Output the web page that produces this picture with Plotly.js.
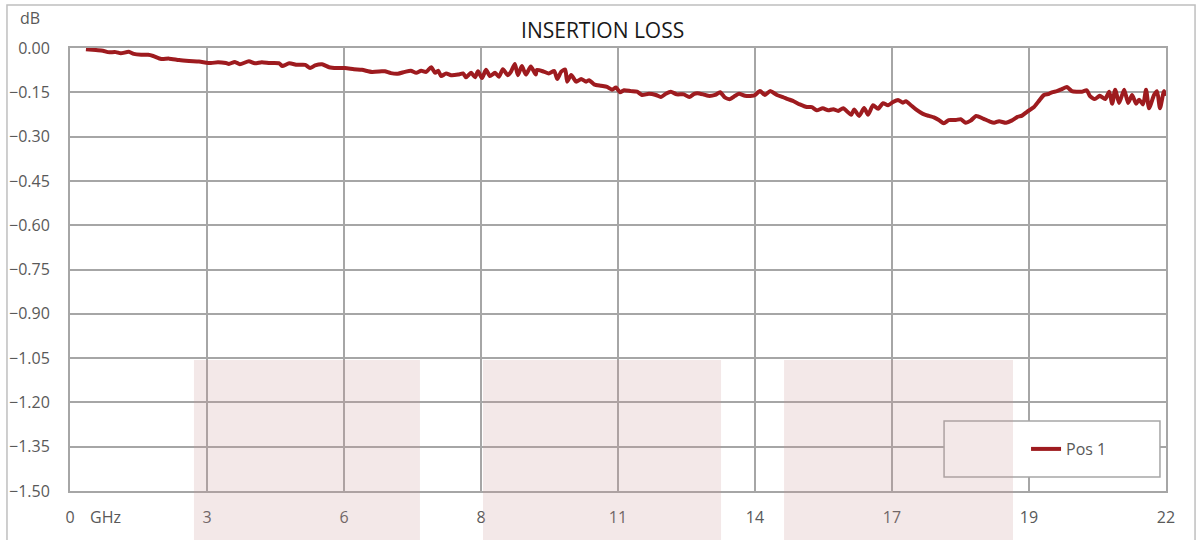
<!DOCTYPE html>
<html>
<head>
<meta charset="utf-8">
<script src="https://cdn.plot.ly/plotly-3.0.1.min.js"></script>
<style>
  html, body { margin: 0; padding: 0; background: #fff; }
  #chart { width: 1196px; height: 540px; }
</style>
</head>
<body>
<div id="chart"></div>
<script>
// frequency points (GHz) and insertion loss (dB)
const freqGHz = [
  0.32, 0.52, 0.66, 0.76, 0.92, 1.02, 1.18, 1.28, 1.43, 1.57, 1.67, 1.83, 1.99, 2.19, 2.39, 2.59, 2.83, 2.97, 3.13,
  3.19, 3.31, 3.41, 3.59, 3.71, 3.85, 4.01, 4.20, 4.26, 4.40, 4.56, 4.72, 4.82, 4.92, 5.06, 5.20, 5.36, 5.52, 5.70, 5.86, 6.06, 6.26,
  6.32, 6.44, 6.58, 6.72, 6.84, 6.95, 7.05, 7.15, 7.25, 7.33, 7.39, 7.45, 7.55, 7.65, 7.79, 7.89, 7.95, 8.05, 8.13, 8.19, 8.27,
  8.35, 8.43, 8.53, 8.61, 8.69, 8.79, 8.85, 8.93, 8.99, 9.07, 9.15, 9.25, 9.35,
  9.37, 9.51, 9.61, 9.72, 9.78, 9.86, 9.94, 9.98, 10.06, 10.16, 10.26, 10.36, 10.42, 10.52, 10.66, 10.78, 10.88, 10.96, 11.04,
  11.12, 11.26, 11.38, 11.48, 11.62, 11.76, 11.86, 11.96, 12.06, 12.18, 12.32, 12.43, 12.53,
  12.59, 12.71, 12.81, 12.95, 13.05, 13.15, 13.25, 13.35, 13.43, 13.55, 13.69, 13.75, 13.85, 13.95, 14.05, 14.19, 14.31, 14.41,
  14.51, 14.65, 14.79, 14.89, 14.99, 15.11, 15.22, 15.32, 15.42, 15.52,
  15.68, 15.74, 15.84, 15.94, 16.02, 16.12, 16.22, 16.32, 16.42, 16.52, 16.62, 16.72, 16.78, 16.88, 16.98, 17.12, 17.24, 17.34,
  17.44, 17.54, 17.64, 17.78, 17.88, 17.98, 18.08, 18.19, 18.33, 18.45, 18.55, 18.65, 18.79,
  18.91, 19.01, 19.11, 19.21, 19.35, 19.45, 19.55, 19.65, 19.71, 19.81, 19.91, 20.01, 20.11, 20.21, 20.31, 20.41, 20.47, 20.57,
  20.67, 20.78, 20.86, 20.92, 20.98, 21.06, 21.16, 21.24, 21.32, 21.40, 21.46, 21.54, 21.60, 21.66, 21.76, 21.82, 21.88, 21.96, 22.00
];
const pos1dB = [
  -0.004, -0.007, -0.009, -0.014, -0.014, -0.018, -0.013, -0.020, -0.023, -0.023, -0.027, -0.037, -0.036, -0.041, -0.044, -0.046, -0.051, -0.048, -0.051,
  -0.054, -0.047, -0.055, -0.045, -0.052, -0.048, -0.051, -0.052, -0.061, -0.052, -0.057, -0.057, -0.068, -0.059, -0.055, -0.065, -0.068, -0.068, -0.072, -0.074, -0.081, -0.079,
  -0.079, -0.085, -0.087, -0.081, -0.077, -0.084, -0.077, -0.081, -0.065, -0.084, -0.077, -0.095, -0.086, -0.092, -0.090, -0.086, -0.099, -0.084, -0.099, -0.079, -0.102,
  -0.074, -0.095, -0.084, -0.097, -0.072, -0.092, -0.081, -0.054, -0.092, -0.061, -0.090, -0.063, -0.090,
  -0.074, -0.080, -0.086, -0.078, -0.105, -0.080, -0.073, -0.114, -0.091, -0.114, -0.105, -0.114, -0.109, -0.123, -0.128, -0.132, -0.141, -0.134, -0.150,
  -0.143, -0.146, -0.148, -0.159, -0.155, -0.159, -0.166, -0.155, -0.148, -0.157, -0.157, -0.166, -0.155,
  -0.153, -0.157, -0.162, -0.159, -0.150, -0.168, -0.173, -0.162, -0.155, -0.162, -0.162, -0.159, -0.146, -0.159, -0.146, -0.159, -0.166, -0.173,
  -0.179, -0.191, -0.200, -0.200, -0.211, -0.204, -0.211, -0.207, -0.213, -0.204,
  -0.226, -0.208, -0.230, -0.203, -0.226, -0.194, -0.206, -0.187, -0.194, -0.183, -0.176, -0.185, -0.180, -0.194, -0.208, -0.223, -0.230, -0.235,
  -0.244, -0.255, -0.244, -0.244, -0.241, -0.253, -0.246, -0.230, -0.239, -0.248, -0.253, -0.248, -0.253,
  -0.245, -0.234, -0.229, -0.216, -0.200, -0.179, -0.159, -0.155, -0.150, -0.146, -0.139, -0.132, -0.146, -0.148, -0.148, -0.143, -0.162, -0.173,
  -0.162, -0.173, -0.148, -0.189, -0.141, -0.186, -0.141, -0.186, -0.159, -0.189, -0.175, -0.191, -0.141, -0.204, -0.159, -0.146, -0.204, -0.146, -0.162
];

// axis ticks: 8 equal steps over 0..22 GHz, labels rounded like the original
const xTickVals = [0, 2.75, 5.5, 8.25, 11, 13.75, 16.5, 19.25, 22];
const xTickText = ['0', '3', '6', '8', '11', '14', '17', '19', '22'];
const yTickVals = [0, -0.15, -0.3, -0.45, -0.6, -0.75, -0.9, -1.05, -1.2, -1.35, -1.5];

const gridColor = '#a6a6a6';
const labelColor = '#595959';
const font = 'Open Sans, Liberation Sans, sans-serif';

// pale pink bands behind the lower part of the chart
const bands = [[0.1131, 0.3193], [0.3768, 0.5940], [0.6515, 0.8604]];

const shapes = [
  // outer chart frame
  {type: 'rect', xref: 'paper', yref: 'paper', x0: -0.0575, x1: 1.0265, y0: -0.2, y1: 1.097,
   line: {color: '#bfbfbf', width: 1.5}, fillcolor: 'rgba(0,0,0,0)', layer: 'below'},
  // legend box
  {type: 'rect', xref: 'paper', yref: 'paper', x0: 0.7975, x1: 0.9945, y0: 0.0316, y1: 0.158,
   line: {color: '#a6a6a6', width: 1.5}, fillcolor: '#ffffff', layer: 'above'}
];
bands.forEach(function (b) {
  shapes.push({type: 'rect', xref: 'paper', yref: 'paper', x0: b[0], x1: b[1], y0: -0.2, y1: 0.2957,
    line: {width: 0}, fillcolor: '#c89698', opacity: 0.22, layer: 'above'});
});

const trace = {
  x: freqGHz,
  y: pos1dB,
  type: 'scatter',
  mode: 'lines',
  name: 'Pos 1',
  line: {color: '#9e1b1f', width: 4, shape: 'spline', smoothing: 0.6}
};

const layout = {
  width: 1196,
  height: 540,
  margin: {l: 70, r: 30, t: 48, b: 49},
  paper_bgcolor: '#ffffff',
  plot_bgcolor: '#ffffff',
  font: {family: font, size: 16, color: labelColor},
  title: {
    text: 'INSERTION LOSS',
    font: {family: font, size: 21, color: '#1a1a1a'},
    xref: 'paper', x: 0.486, xanchor: 'center',
    yref: 'container', y: 0.944, yanchor: 'middle'
  },
  xaxis: {
    range: [0, 22],
    tickmode: 'array',
    tickvals: xTickVals,
    ticktext: xTickText,
    showgrid: true,
    gridcolor: gridColor,
    gridwidth: 2,
    zeroline: false,
    showline: true,
    linecolor: gridColor,
    linewidth: 2,
    mirror: true,
    ticks: '',
    ticklabelstandoff: 11,
    tickfont: {family: font, size: 16, color: labelColor}
  },
  yaxis: {
    range: [-1.5, 0],
    tickmode: 'array',
    tickvals: yTickVals,
    tickformat: '.2f',
    showgrid: true,
    gridcolor: gridColor,
    gridwidth: 2,
    zeroline: false,
    showline: true,
    linecolor: gridColor,
    linewidth: 2,
    mirror: true,
    ticks: '',
    ticklabelstandoff: 15,
    tickfont: {family: font, size: 16, color: labelColor}
  },
  showlegend: true,
  legend: {
    xref: 'paper', yref: 'paper',
    x: 0.8723, y: 0.0948, xanchor: 'left', yanchor: 'middle',
    bgcolor: 'rgba(0,0,0,0)',
    borderwidth: 0,
    font: {family: font, size: 16, color: labelColor}
  },
  shapes: shapes,
  annotations: [
    {text: 'dB', xref: 'paper', yref: 'paper', x: -0.0365, y: 1.068, showarrow: false,
     xanchor: 'center', yanchor: 'middle', font: {family: font, size: 16, color: labelColor}},
    {text: 'GHz', xref: 'paper', yref: 'paper', x: 0.0325, y: -0.0587, showarrow: false,
     xanchor: 'center', yanchor: 'middle', font: {family: font, size: 16, color: labelColor}}
  ]
};

Plotly.newPlot('chart', [trace], layout, {displayModeBar: false, staticPlot: true});
</script>
</body>
</html>
